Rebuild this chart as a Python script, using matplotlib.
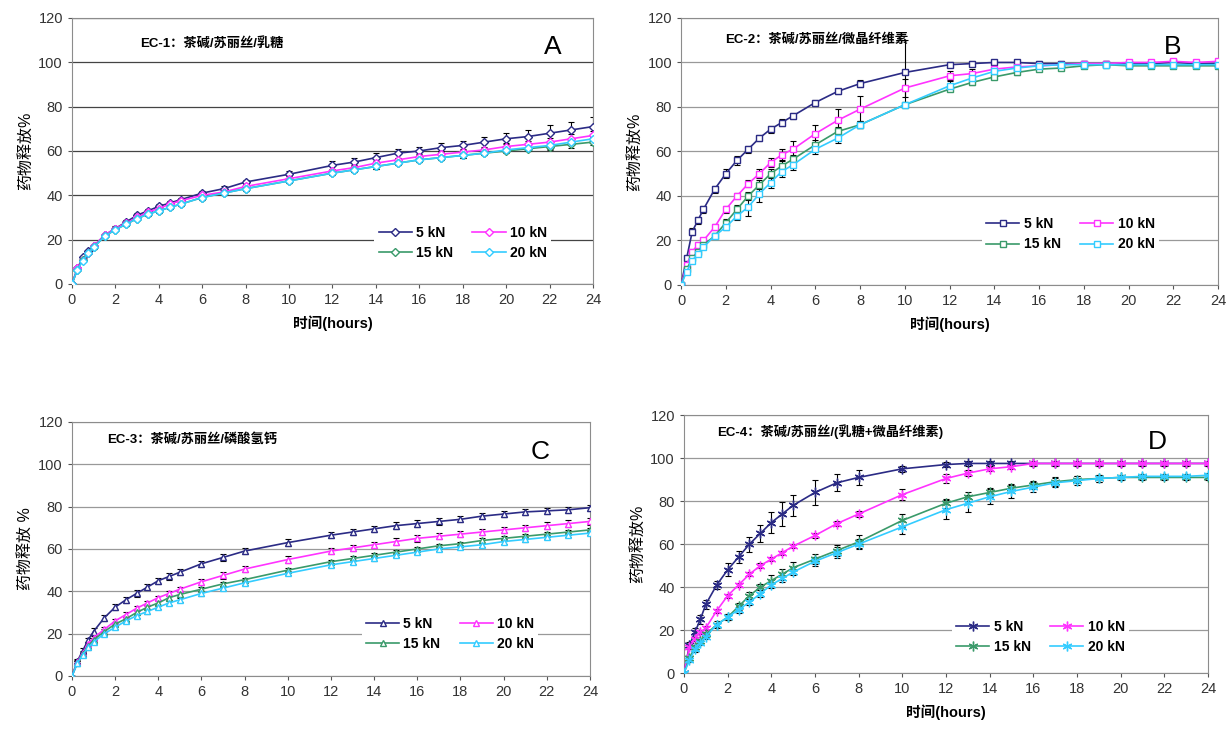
import matplotlib.pyplot as plt

plt.rcParams['font.family'] = ['Liberation Sans', 'Noto Sans CJK SC', 'DejaVu Sans']

# sampling times (hours)
hours = [0, 0.25, 0.5, 0.75, 1, 1.5, 2, 2.5, 3, 3.5, 4, 4.5, 5, 6, 7, 8, 10,
         12, 13, 14, 15, 16, 17, 18, 19, 20, 21, 22, 23, 24]
labels = ['5 kN', '10 kN', '15 kN', '20 kN']
colors = ['#2b2b85', '#ff33ff', '#3a9a6a', '#33ccff']

# EC-1
a5 = [0, 7, 12, 15, 17, 22, 25, 28, 31, 33, 35, 36.5, 38, 41, 43, 46, 49.5, 53.5, 55, 57, 59, 60, 61.5, 62.5, 64, 65.5, 66.5, 68, 69.5, 71]
a10 = [0, 7, 11, 14, 17, 22, 25, 27.5, 30, 32.5, 34, 36, 37.5, 40, 41.5, 44, 47.5, 51, 52.5, 54.5, 56, 57.5, 58.5, 59.5, 60.5, 62, 63, 64, 65.5, 67]
a15 = [0, 6.5, 11, 14, 16.5, 21.5, 24.5, 27, 29.5, 31.5, 33, 34.5, 36, 39, 41, 43, 46.5, 50, 51.5, 53, 54.5, 56, 57, 58, 59, 60, 61, 62, 63, 64]
a20 = [0, 6.5, 10.5, 14, 16.5, 21.5, 24.5, 27, 29.5, 31.5, 33, 34.5, 36, 39, 41, 43, 46.5, 50, 51.5, 53, 54.5, 56, 57, 58, 59, 60.5, 61.5, 62.5, 64, 65.5]
ea5 = [0, .5, .5, .5, .5, .5, 1, 1, 1, 1, 1, 1, 1, 1, 1, 1, 1.5, 2, 2, 2, 2, 2, 2, 2, 2.5, 2.5, 3, 3.5, 3.5, 4.5]
ea10 = [0, .5, .5, .5, .5, .5, .8, .8, .8, .8, .8, .8, .8, 1, 1, 1, 1, 1, 1, 1, 1, 1, 1.5, 1.5, 1.5, 1.5, 1.5, 2, 2, 2]
ea15 = [0, .5, .5, .5, .5, .5, .8, .8, .8, .8, .8, .8, .8, 1, 1, 1, 1, 1, 1, 1, 1, 1, 1, 1, 1, 1, 1, 1.5, 1.5, 1.5]
ea20 = [0, .5, .5, .5, .5, .5, .8, .8, .8, .8, .8, .8, .8, 1, 1, 1, 1, 1, 1, 1, 1, 1, 1, 1, 1, 1, 1, 1.5, 1.5, 1.5]

# EC-2
b5 = [0, 12, 24, 29, 34, 43, 50, 56, 61, 66, 70, 73, 76, 82, 87, 90.5, 95.5, 99, 99.5, 100, 100, 99.5, 99.5, 99.5, 99.5, 99.5, 99.5, 100, 99.5, 99.5]
b10 = [0, 9, 15, 18, 20, 26, 34, 40, 45.5, 50, 55, 58.5, 61, 68, 74, 79, 88.5, 94, 95, 97, 98, 98.5, 99, 99.5, 99.5, 100, 100, 100.5, 100, 100.5]
b15 = [0, 7, 12, 15, 18, 22, 28, 34, 40, 45, 50, 53.5, 56.5, 63, 69, 72, 81, 88, 91, 93.5, 95.5, 97, 97.5, 98.5, 99, 98.5, 98.5, 98.5, 98.5, 98.5]
b20 = [0, 6, 11, 14, 17, 22, 26, 31, 35, 41, 46, 51, 54, 61, 66, 72, 81, 89.5, 93, 96, 97.5, 98.5, 99, 99, 99, 99, 99, 99, 99, 99]
eb5 = [0, 1, 1.5, 1.5, 1.5, 1.5, 2, 2, 1.5, 1.5, 1.5, 1.5, 1.5, 1, 1, 1.5, 14.5, 1, 1, 1, 1, 1, 1, 1, 1, 1, 1, 1, 1, 1]
eb10 = [0, 1, 1, 1, 1, 1.5, 1.5, 1.5, 1.5, 2, 2, 2.5, 3.5, 4, 5, 6, 4, 2, 2, 1, 1, 1, 1, 1, 1, 1, 1, 1, 1, 1]
eb15 = [0, 1, 1, 1, 1, 1, 1.5, 2, 2, 2, 2, 2, 2, 2, 2, 1.5, 1, 1, 1, 1, 1, 1, 1, 1, 1, 1, 1, 1, 1, 1]
eb20 = [0, 1, 1, 1, 1, 1, 1.5, 2, 4, 3.5, 2.5, 2.5, 2.5, 2, 2, 1.5, 1, 2, 2, 1, 1, 1, 1, 1, 1, 1, 1, 1, 1, 1]

# EC-3
c5 = [0, 7, 12, 17, 21, 27.5, 32.5, 36, 39, 42, 45, 47, 49, 53, 56, 59, 63, 66.5, 68, 69.5, 71, 72, 73, 74, 75.5, 76.5, 77.5, 78, 78.5, 79.5]
c10 = [0, 6.5, 11, 15, 18, 22, 26, 29, 32, 34.5, 37, 39, 41, 44.5, 47.5, 50.5, 55, 59, 60.5, 62, 63.5, 65, 66, 67, 68, 69, 70, 71, 72, 73]
c15 = [0, 6, 10.5, 14, 17, 21, 24.5, 27, 30, 32.5, 34.5, 37, 38.5, 41, 43.5, 45.5, 50, 54, 55.5, 57, 58.5, 60, 61.5, 62.5, 64, 65, 66, 67, 68, 69]
c20 = [0, 6, 10, 13.5, 16, 20, 23, 26, 28.5, 30.5, 32.5, 34.5, 36, 39, 41.5, 44, 48.5, 52.5, 54, 55.5, 57, 58.5, 60, 61, 62, 63.5, 64.5, 65.5, 66.5, 67.5]
ec5 = [0, 1, 1, 1, 1.5, 1.5, 1.5, 1.5, 1.5, 1.5, 1.5, 1.5, 1.5, 1.5, 1.5, 1.5, 1.5, 1.5, 1.5, 1.5, 1.5, 1.5, 1.5, 1.5, 1.5, 1.5, 1.5, 1.5, 1.5, 1.5]
ec10 = [0, 1, 1, 1, 1, 1, 1, 1, 1, 1, 1, 1, 1, 1.5, 1.5, 1.5, 1.5, 1.5, 1.5, 1.5, 1.5, 1.5, 1.5, 1.5, 1.5, 1.5, 1.5, 1.5, 1.5, 1.5]
ec15 = [0, 1, 1, 1, 1, 1, 1, 1, 1, 1, 1, 1, 1, 1, 1, 1, 1, 1, 1, 1, 1, 1, 1, 1, 1, 1, 1, 1, 1, 1]
ec20 = [0, 1, 1, 1, 1, 1, 1, 1, 1, 1, 1, 1, 1, 1, 1, 1, 1, 1, 1, 1, 1, 1, 1, 1, 1, 1, 1, 1, 1, 1]

# EC-4
d5 = [0, 13, 19, 25, 32, 41, 48, 54, 60, 65, 70, 74, 78, 84, 88.5, 91, 95, 97, 97.5, 97.5, 97.5, 97.5, 97.5, 97.5, 97.5, 97.5, 97.5, 97.5, 97.5, 97.5]
d10 = [0, 12, 16, 19, 21, 29, 36, 41, 46, 50, 53, 56, 59, 64, 69.5, 74, 83, 90.5, 93, 95, 96, 97.5, 97.5, 97.5, 97.5, 97.5, 97.5, 97.5, 97.5, 97.5]
d15 = [0, 7, 12, 15, 18, 22.5, 26, 31, 36, 40, 43, 46, 49, 53, 57, 61, 71, 79, 82, 84, 86, 87.5, 89, 90, 90.5, 91, 91, 91, 91, 91]
d20 = [0, 6, 11, 14, 17, 22.5, 26, 29.5, 33, 37, 41, 44, 47, 52, 56, 60, 68, 76, 79, 82, 84.5, 86.5, 88.5, 89.5, 90.5, 91, 91.5, 91.5, 91.5, 92]
ed5 = [0, 1.5, 2, 2, 2, 2, 3, 3, 3.5, 4, 5, 5.5, 5, 6, 4, 3.5, 1.5, 1, 1, 1, 1, 1, 1, 1, 1, 1, 1, 1, 1, 1]
ed10 = [0, 1, 1, 1, 1, 1, 1, 1, 1, 1, 1, 1, 1, 1, 1, 1.5, 2.5, 2, 1.5, 1, 1, 1, 1, 1, 1, 1, 1, 1, 1, 1]
ed15 = [0, 1, 1, 1, 1, 1, 1.5, 1.5, 1.5, 1.5, 2.5, 2.5, 2.5, 2.5, 2.5, 3, 3, 2, 2, 2, 2, 2, 2, 1.5, 1.5, 1, 1, 1, 1, 1]
ed20 = [0, 1, 1, 1, 1, 1.5, 1.5, 1.5, 1.5, 1.5, 1.5, 1.5, 1.5, 2, 2.5, 2.5, 3.5, 4.5, 4, 3.5, 3, 2.5, 2, 2, 1.5, 1, 1, 1, 1, 1]

asterisk = (6, 2, 0)

panels = [
    # rect, series, errors, marker, marker size, title, letter, letter pos, title pos, legend pos, grid color, xlabel, ylabel
    ([0.0586, 0.611, 0.4243, 0.3644], [a5, a10, a15, a20], [ea5, ea10, ea15, ea20], 'D', 4,
     'EC-1：茶碱/苏丽丝/乳糖', 'A', (0.905, 0.89), (0.13, 0.905), (0.75, 0.155), '#444444', '时间(hours)', '药物释放%'),
    ([0.5546, 0.6096, 0.4373, 0.3658], [b5, b10, b15, b20], [eb5, eb10, eb15, eb20], 's', 5,
     'EC-2：茶碱/苏丽丝/微晶纤维素', 'B', (0.90, 0.89), (0.082, 0.918), (0.725, 0.19), '#999999', '时间(hours)', '药物释放%'),
    ([0.0586, 0.074, 0.4218, 0.348], [c5, c10, c15, c20], [ec5, ec10, ec15, ec20], '^', 5,
     'EC-3：茶碱/苏丽丝/磷酸氢钙', 'C', (0.885, 0.88), (0.068, 0.93), (0.73, 0.165), '#999999', None, '药物释放 %'),
    ([0.557, 0.078, 0.4267, 0.3534], [d5, d10, d15, d20], [ed5, ed10, ed15, ed20], asterisk, 7,
     'EC-4：茶碱/苏丽丝/(乳糖+微晶纤维素)', 'D', (0.885, 0.895), (0.063, 0.934), (0.68, 0.14), '#999999', '时间(hours)', '药物释放%'),
]

fig = plt.figure(figsize=(12.28, 7.3), dpi=100)

for rect, series, errs, mk, ms, title, letter, lpos, tpos, legpos, gcol, xlab, ylab in panels:
    ax = fig.add_axes(rect)
    handles = []
    for y, e, c, lab in zip(series, errs, colors, labels):
        ax.errorbar(hours, y, yerr=e, fmt='none', ecolor='black', elinewidth=0.8,
                    capsize=2, capthick=0.8, zorder=2)
        h, = ax.plot(hours, y, color=c, lw=1.2, marker=mk, markersize=ms,
                     markerfacecolor='white' if mk != asterisk else c,
                     markeredgecolor=c, markeredgewidth=1.0, label=lab, zorder=3)
        handles.append(h)
    ax.set_xlim(0, 24)
    ax.set_ylim(0, 120)
    ax.set_xticks(range(0, 25, 2))
    ax.set_yticks(range(0, 121, 20))
    ax.yaxis.grid(True, color=gcol, lw=0.9)
    ax.set_axisbelow(True)
    for s in ax.spines.values():
        s.set_color('#8c8c8c')
    ax.tick_params(axis='both', labelsize=10.5, labelcolor='#333333', color='#555555', length=3)
    if xlab:
        ax.set_xlabel(xlab, fontsize=10.5, fontweight='bold', labelpad=6)
    ax.set_ylabel(ylab, fontsize=11.5, labelpad=4)
    ax.text(tpos[0], tpos[1], title, transform=ax.transAxes, fontsize=9.5,
            fontweight='bold', va='center', ha='left')
    ax.text(lpos[0], lpos[1], letter, transform=ax.transAxes, fontsize=19,
            va='center', ha='left')
    # legend rows: 5/10 then 15/20 (column-wise fill order)
    order = [0, 2, 1, 3]
    leg = ax.legend([handles[i] for i in order], [labels[i] for i in order],
                    ncol=2, loc='center', bbox_to_anchor=legpos, frameon=True,
                    facecolor='white', edgecolor='none', framealpha=1,
                    prop={'size': 10, 'weight': 'bold'}, handlelength=2.4,
                    handletextpad=0.3, columnspacing=1.4, borderpad=0.3,
                    labelspacing=0.45)
    leg.set_zorder(4)

fig.savefig('out.png', dpi=100)
